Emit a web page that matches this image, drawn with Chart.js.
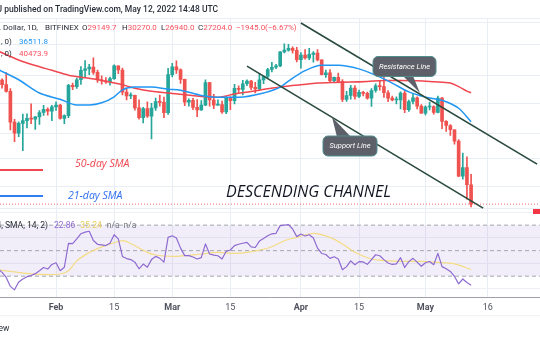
<!DOCTYPE html>
<html>
<head>
<meta charset="utf-8">
<script src="https://cdn.jsdelivr.net/npm/chart.js@4.4.0/dist/chart.umd.min.js"></script>
<style>
  html, body { margin: 0; padding: 0; background: #fff; }
  #wrap { width: 540px; height: 340px; }
</style>
</head>
<body>
<div id="wrap"><canvas id="btcChart" width="540" height="340"></canvas></div>
<script>
// =============================
// Data (day numbers: Jan 1 2022 = 0)
// =============================
const firstDay = 17; // Jan 18

const opens = [42200, 42350, 41660, 40680, 36460, 35030, 36280, 36650, 36950, 36840, 37140, 37720, 38150, 37900,
  38480, 38740, 36950, 37300, 41550, 41380, 42400, 43850, 44080, 44370, 43540, 42390, 42230, 42080, 42570, 44560,
  43900, 40560, 40020, 40120, 38350, 37040, 38250, 37250, 38330, 39220, 39120, 37700,
  43190, 44420, 43920, 42460, 39150, 39400, 38420, 38060, 38740, 41980, 39440, 38730, 38820, 37800, 39670, 39340,
  41140, 40950, 41800, 42210, 41270, 41030, 42380, 42900, 43980, 44330, 44540, 46830, 47130, 47440, 47080,
  45530, 46300, 45830, 46430, 46620, 45520, 43170, 43450, 42280, 42760, 42160, 39530, 40080, 41150, 39950, 40550,
  40390, 39690, 40800, 41500, 41370, 40480, 39700, 39450, 39450, 40430, 38120, 39240, 39740, 38600,
  37650, 38470, 38520, 37730, 39700, 36550, 36020, 35470, 34060, 30070, 31000, 29150];
const highs = [42690, 42550, 43500, 41100, 36830, 36480, 37530, 37550, 38900, 37230, 38000, 38700, 38360, 38720,
  39200, 38830, 37400, 41730, 41900, 42650, 44450, 45400, 44780, 45830, 43900, 43000, 42730, 42800, 44700, 44560,
  44200, 40960, 40450, 40130, 39470, 38440, 39200, 38980, 39700, 40130, 39850, 44150,
  44950, 45360, 44100, 42500, 39620, 39680, 39520, 39380, 42400, 42000, 40250, 39460, 39300, 39920, 39880, 41720,
  41480, 42320, 42400, 42300, 42000, 43350, 43000, 44180, 45100, 44800, 46900, 48190, 48100, 47700, 47600,
  46700, 47200, 47440, 46880, 47200, 45520, 43900, 43970, 42800, 43420, 42420, 40700, 41550, 41520, 40850, 40680,
  40590, 41100, 41780, 42200, 42950, 40800, 40000, 39900, 40600, 40800, 39450, 40350, 39900, 38800,
  38650, 39150, 38640, 40000, 39840, 36650, 36130, 35500, 34240, 32630, 32200, 30270];
const lows = [41260, 41140, 40550, 35440, 34010, 34600, 32930, 35700, 36250, 35510, 36170, 37340, 37380, 36650,
  38000, 36830, 36250, 37050, 40930, 41120, 41700, 42700, 43180, 43200, 42000, 41750, 41840, 41580, 42450, 43330,
  40150, 39460, 39650, 38030, 36830, 36360, 37080, 34330, 38000, 38600, 37050, 37470,
  42850, 43350, 41860, 38650, 38600, 38100, 37180, 38000, 38670, 38580, 38250, 38680, 37600, 37580, 38120, 38900,
  40530, 40160, 41520, 40920, 40470, 40900, 41800, 42640, 43600, 44100, 44420, 46650, 46950, 46620, 45200,
  44200, 45650, 45550, 45140, 45350, 43130, 42760, 42130, 42130, 42020, 39200, 39250, 39570, 39570, 39780, 40020,
  39570, 38550, 40580, 40850, 39800, 39200, 39320, 38900, 38200, 37700, 37880, 38900, 38200, 37600,
  37400, 38080, 37500, 37670, 35600, 35260, 34750, 33710, 30000, 29730, 27700, 26940];
const closes = [42350, 41660, 40680, 36460, 35030, 36280, 36650, 36950, 36840, 37140, 37720, 38150, 37900, 38480,
  38740, 36950, 37300, 41550, 41380, 42400, 43850, 44080, 44370, 43540, 42390, 42230, 42080, 42570, 44560, 43900,
  40560, 40020, 40120, 38350, 37040, 38250, 37250, 38330, 39220, 39120, 37700, 43190,
  44420, 43920, 42460, 39150, 39400, 38420, 38060, 38740, 41980, 39440, 38730, 38820, 37800, 39670, 39340, 41140,
  40950, 41800, 42210, 41270, 41030, 42380, 42900, 43980, 44330, 44540, 46830, 47130, 47440, 47080, 45530,
  46300, 45830, 46430, 46620, 45520, 43170, 43450, 42280, 42760, 42160, 39530, 40080, 41150, 39950, 40550, 40390,
  39690, 40800, 41500, 41370, 40480, 39700, 39450, 39450, 40430, 38120, 39240, 39740, 38600, 37650,
  38470, 38520, 37730, 39700, 36550, 36020, 35470, 34060, 30070, 31000, 29150, 27204];

const sma21Days = [17, 22, 27, 32, 36, 39, 42, 45, 47, 50, 54, 58, 61, 66, 70, 75, 81, 85, 87, 91, 95, 99, 104, 108, 112, 116, 120, 124, 128, 131];
const sma21 = [44000, 42400, 40450, 39550, 38750, 38750, 39050, 39900, 40900, 41300, 41300, 41000, 40850, 40100, 39850,
  39850, 40450, 41300, 42200, 43800, 44650, 44650, 44080, 43100, 41900, 40600, 39850, 39400, 38300, 36512];

const sma50Days = [17, 22, 26, 30, 34, 38, 42, 46, 50, 54, 58, 62, 66, 70, 74, 78, 82, 86, 90, 94, 98, 102, 106, 110, 114, 118, 122, 126, 128, 130, 131];
const sma50 = [47000, 45500, 44600, 43850, 43100, 42700, 42300, 41800, 41150, 40700, 40450, 40200, 39950, 39850, 40300,
  40650, 41050, 41400, 41650, 41900, 42000, 42050, 42150, 42300, 42300, 42250, 42100, 41900, 41380, 40720, 40474];

const rsi = [36, 33, 29, 22, 19.3, 25.5, 27.8, 29.6, 30.5, 32, 34.2, 36.8, 35.6, 39.2, 40.5, 34.3, 37, 55.7, 55.5, 59.2,
  63.3, 64.5, 65.2, 58, 55, 54.5, 54, 55.8, 62.5, 59.2, 45.5, 43.8, 43, 41, 35.8, 39.5, 37, 43, 45.5, 44, 41,
  60.4, 61.7, 60, 52, 46.1, 46.1, 45, 43.5, 44.5, 55.3, 47.4, 46.5, 46, 43.5, 49.5, 50.5, 54, 55, 55.8, 56.5, 53,
  52.5, 57.5, 59.5, 61.7, 63.2, 63.6, 69.6, 70, 70.4, 67, 61, 63, 61.5, 62.5, 60, 52, 47.8, 47, 44, 45.2, 43.5,
  35, 37.5, 42, 39, 41.4, 41.2, 39.3, 43, 46.8, 46, 43, 40.3, 39.2, 39.6, 44.5, 36.8, 41.4, 44, 41, 37.8, 40.5,
  41.5, 39, 47.9, 37.5, 35.8, 33.7, 29.8, 24, 27.8, 25, 22.9];

const rsiSmaDays = [17, 20, 22, 25, 29, 32, 34, 36, 39, 42, 46, 47, 50, 53, 55, 59, 62, 66, 70, 74, 77, 80, 83, 86, 89, 93, 97, 100, 103, 107, 110, 115, 119, 123, 127, 131];
const rsiSma = [35, 33.8, 32.9, 31.8, 31.2, 31.7, 34.3, 42, 48.5, 53, 57.2, 57.8, 53.8, 48.7, 46.6, 45.5, 46.1, 47.4,
  48.7, 47.9, 48.7, 50.4, 53.1, 57.8, 60.4, 63.6, 60.4, 55.3, 48.7, 43.5, 42.2, 41.6, 41.6, 40.8, 39.6, 35.24];

// trend lines (day, price)
const resistanceDays = [90.0, 146.9];
const resistancePrices = [51910, 31380];
const supportDays = [77.0, 133.9];
const supportPrices = [44520, 26820];

// axes
const tickDays = [31, 45, 59, 73, 90, 104, 120, 135];
const tickLabels = ["Feb", "15", "Mar", "15", "Apr", "15", "May", "16"];
const monthTicks = [31, 59, 90, 120];
const priceGrid = [52000, 48000, 43000, 39000, 35000, 32000, 29000, 26800];
const rsiGrid = [80, 60, 40, 20];
const rsiLevels = [70, 50, 30];

const X_MIN = 17.5, X_MAX = 147.6;
const PRICE_MIN = 19520, PRICE_MAX = 52850;
const RSI_MIN = 13.53, RSI_MAX = 232.35;

const UP = "#26a69a", DOWN = "#ef5350";
const lastClose = closes[closes.length - 1];

// =============================
// Datasets
// =============================
const days = opens.map((_, i) => firstDay + i);
const candleColors = closes.map((c, i) => (c >= opens[i] ? UP : DOWN));
const pts = (xs, ys) => xs.map((x, i) => ({ x: x, y: ys[i] }));
const flat = v => [{ x: X_MIN, y: v }, { x: X_MAX, y: v }];

const lineBase = { type: "line", pointRadius: 0, borderJoinStyle: "round" };

const datasets = [
  { ...lineBase, label: "Resistance", data: pts(resistanceDays, resistancePrices), borderColor: "#2a4a3d", borderWidth: 1.6, yAxisID: "y", order: 0 },
  { ...lineBase, label: "Support", data: pts(supportDays, supportPrices), borderColor: "#2a4a3d", borderWidth: 1.6, yAxisID: "y", order: 0 },
  { ...lineBase, label: "SMA 21", data: pts(sma21Days, sma21), borderColor: "#2196f3", borderWidth: 1.5, cubicInterpolationMode: "monotone", yAxisID: "y", order: 1 },
  { ...lineBase, label: "SMA 50", data: pts(sma50Days, sma50), borderColor: "#f0464f", borderWidth: 1.5, cubicInterpolationMode: "monotone", yAxisID: "y", order: 1 },
  { type: "bar", label: "Bodies", data: days.map((d, i) => ({ x: d, y: [opens[i], closes[i]] })), backgroundColor: candleColors,
    barThickness: 3, grouped: false, minBarLength: 1, yAxisID: "y", order: 2 },
  { type: "bar", label: "Wicks", data: days.map((d, i) => ({ x: d, y: [lows[i], highs[i]] })), backgroundColor: candleColors,
    barThickness: 1, grouped: false, yAxisID: "y", order: 3 },
  { ...lineBase, label: "Last", data: flat(lastClose), borderColor: "rgba(242,54,69,0.75)", borderWidth: 1, borderDash: [1, 2], yAxisID: "y", order: 4 },
  { ...lineBase, label: "RSI", data: pts(days, rsi), borderColor: "#8e6ad0", borderWidth: 1.2, yAxisID: "rsi", order: 5 },
  { ...lineBase, label: "RSI SMA", data: pts(rsiSmaDays, rsiSma), borderColor: "#f4dc85", borderWidth: 1.2, cubicInterpolationMode: "monotone", yAxisID: "rsi", order: 6 },
  { ...lineBase, label: "70", data: flat(rsiLevels[0]), borderColor: "#a3a6ae", borderWidth: 1, borderDash: [4, 3], yAxisID: "rsi", order: 7 },
  { ...lineBase, label: "50", data: flat(rsiLevels[1]), borderColor: "#a3a6ae", borderWidth: 1, borderDash: [4, 3], yAxisID: "rsi", order: 7 },
  { ...lineBase, label: "30", data: flat(rsiLevels[2]), borderColor: "#a3a6ae", borderWidth: 1, borderDash: [4, 3], yAxisID: "rsi", order: 7,
    fill: "-2", backgroundColor: "rgba(126,87,194,0.10)" }
];

// =============================
// Annotation layer (texts, callouts)
// =============================
function txt(c, s, x, y, font, color, align) {
  c.font = font;
  c.fillStyle = color;
  c.textAlign = align || "left";
  c.textBaseline = "middle";
  c.fillText(s, x, y);
  return c.measureText(s).width;
}

function callout(c, box, tip, label) {
  c.fillStyle = "#5d6068";
  c.strokeStyle = "#4f8d8f";
  c.lineWidth = 1;
  c.beginPath();
  c.moveTo(tip.b1[0], tip.b1[1]);
  c.lineTo(tip.x, tip.y);
  c.lineTo(tip.b2[0], tip.b2[1]);
  c.closePath();
  c.fill();
  c.beginPath();
  c.roundRect(box.x, box.y, box.w, box.h, 5);
  c.fill();
  c.stroke();
  txt(c, label, box.x + box.w / 2, box.y + box.h / 2 + 0.5, "italic 7.5px Roboto", "#ffffff", "center");
}

const annotations = {
  id: "annotations",
  afterDraw(chart) {
    const c = chart.ctx;
    const area = chart.chartArea;
    c.save();

    // header
    txt(c, "U published on TradingView.com, May 12, 2022 14:48 UTC", -3.5, 10, "500 8.5px Roboto", "#2a2e39");
    const f2 = "8px Roboto";
    txt(c, ". Dollar,", -1, 28, f2, "#2a2e39");
    txt(c, "1D,", 27, 28, f2, "#2a2e39");
    txt(c, "BITFINEX", 45, 28, f2, "#2a2e39");
    const ohlc = [["O", "29149.7", 82], ["H", "30270.0", 122], ["L", "26940.0", 161], ["C", "27204.0", 198]];
    ohlc.forEach(([k, v, x]) => {
      const w = txt(c, k, x, 28, f2, "#2a2e39");
      txt(c, v, x + w, 28, f2, "#f7525f");
    });
    txt(c, "\u22121945.0", 236, 28, f2, "#f7525f");
    txt(c, "(\u22126.67%)", 265, 28, f2, "#f7525f");
    txt(c, ", 0)", 1, 41.5, f2, "#2a2e39");
    txt(c, "36511.8", 19, 41.5, f2, "#2196f3");
    txt(c, ", 0)", 1, 54, f2, "#2a2e39");
    txt(c, "40473.9", 19, 54, f2, "#f7525f");

    // SMA legend
    c.lineWidth = 2;
    c.strokeStyle = "#f0464f";
    c.beginPath(); c.moveTo(0, 170); c.lineTo(43, 170); c.stroke();
    c.strokeStyle = "#2f7ff0";
    c.beginPath(); c.moveTo(0, 196); c.lineTo(43, 196); c.stroke();
    txt(c, "50-day SMA", 75, 164.5, "italic 500 10.5px 'Open Sans'", "#f0464f");
    txt(c, "21-day SMA", 68, 196, "italic 500 10.5px 'Open Sans'", "#2f6ff0");

    txt(c, "DESCENDING CHANNEL", 226, 192, "italic 16px 'Open Sans'", "#131722");

    // callouts
    callout(c, { x: 373, y: 56.5, w: 63, h: 20 }, { x: 420, y: 93, b1: [403, 76], b2: [413, 76] }, "Resistance Line");
    callout(c, { x: 323, y: 136, w: 54, h: 20 }, { x: 332, y: 117, b1: [337, 137], b2: [351, 137] }, "Support Line");

    // RSI header
    const f3 = "8.5px Roboto";
    txt(c, "RSI (close, 14, SMA, 14, 2)", 48, 226, f3, "#2a2e39", "right");
    let x = 54;
    x += txt(c, "22.86", x, 226, f3, "#8e6ad0") + 5;
    x += txt(c, "35.24", x, 226, f3, "#e8cc5a") + 5;
    x += txt(c, "n/a", x, 226, f3, "#787b86") + 4;
    txt(c, "n/a", x, 226, f3, "#787b86");

    // last price tag (cut by the frame)
    c.fillStyle = "#f23645";
    c.fillRect(533, 209, 7, 5);

    // footer
    c.strokeStyle = "#eef0f3";
    c.lineWidth = 1;
    c.beginPath(); c.moveTo(0, area.bottom + 18.5); c.lineTo(540, area.bottom + 18.5); c.stroke();
    txt(c, "TradingView", 9.5, 328.5, "8.5px Roboto", "#2a2e39", "right");

    c.restore();
  }
};

// =============================
// Chart
// =============================
new Chart(document.getElementById("btcChart"), {
  data: { datasets: datasets },
  options: {
    responsive: false,
    animation: false,
    devicePixelRatio: 1,
    layout: { padding: { top: 18, bottom: 22, left: 0, right: 0 } },
    plugins: { legend: { display: false }, tooltip: { enabled: false } },
    scales: {
      x: {
        type: "linear",
        offset: false,
        min: X_MIN,
        max: X_MAX,
        afterBuildTicks: s => { s.ticks = tickDays.map(v => ({ value: v })); },
        ticks: {
          autoSkip: false,
          maxRotation: 0,
          padding: 5,
          color: "#50535e",
          font: ctx => ({ family: "Roboto", size: 9, weight: ctx.tick && monthTicks.includes(ctx.tick.value) ? "bold" : "normal" }),
          callback: v => tickLabels[tickDays.indexOf(v)]
        },
        grid: { color: "#e9eef4", drawTicks: false, offset: false },
        border: { color: "#9ea1a9" }
      },
      y: {
        type: "logarithmic",
        position: "left",
        min: PRICE_MIN,
        max: PRICE_MAX,
        afterBuildTicks: s => { s.ticks = [PRICE_MAX].concat(priceGrid).map(v => ({ value: v })); },
        ticks: { display: false },
        grid: { color: "#e9eef4", drawTicks: false },
        border: { display: false }
      },
      rsi: {
        type: "linear",
        position: "left",
        min: RSI_MIN,
        max: RSI_MAX,
        afterBuildTicks: s => { s.ticks = rsiGrid.map(v => ({ value: v })); },
        ticks: { display: false },
        grid: { color: "#edf0f5", drawTicks: false },
        border: { display: false }
      }
    }
  },
  plugins: [annotations]
});
</script>
</body>
</html>
